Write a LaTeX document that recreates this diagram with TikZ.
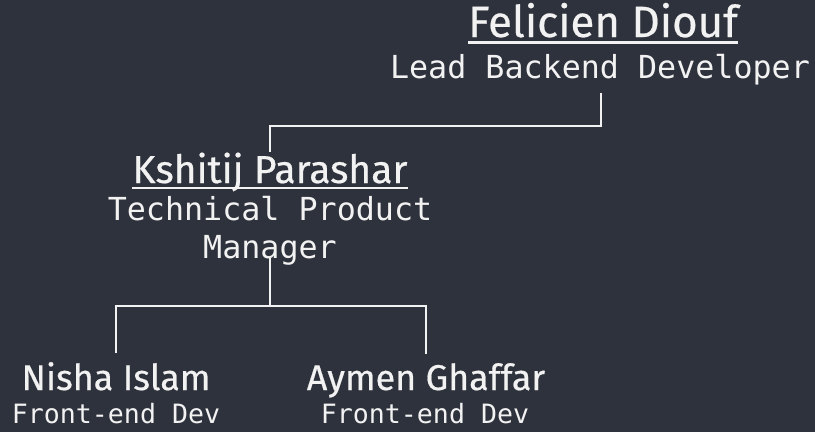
\documentclass[tikz,border=0pt]{standalone}
\usepackage{fontspec}
\setmainfont{Fira Sans}[FakeBold=0.5]
\newfontfamily\monof{DejaVu Sans Mono}
\usetikzlibrary{calc}
\definecolor{bg}{HTML}{2E323C}
\definecolor{fg}{HTML}{F2F2F2}
\tikzset{
  lvlA/.style={font=\fontsize{43.8}{44}\selectfont, text=fg, inner sep=0pt, anchor=base},
  lvlB/.style={font=\fontsize{39}{39}\selectfont, text=fg, inner sep=0pt, anchor=base},
  lvlC/.style={font=\fontsize{35.8}{36}\selectfont, text=fg, inner sep=0pt, anchor=base},
  roleA/.style={font=\monof\fontsize{31.7}{38}\selectfont, text=fg, inner sep=0pt, anchor=base, align=center},
  roleC/.style={font=\monof\fontsize{26.6}{32}\selectfont, text=fg, inner sep=0pt, anchor=base},
  link/.style={draw=fg, line width=2pt},
  uline/.style={draw=fg, line width=3pt}
}
\begin{document}
\begin{tikzpicture}[x=1pt,y=-1pt]
\path[fill=bg] (0,0) rectangle (815,432);
% level 1
\node[lvlA] (fel) at (603,37) {Felicien Diouf};
\node[roleA] (felR) at (600,78) {Lead Backend Developer};
\draw[uline] ($(fel.base west)+(0,5)$) -- ($(fel.base east)+(0,5)$);
% level 2
\node[lvlB] (ksh) at (270,183) {Kshitij Parashar};
\node[roleA] (kshR) at (270,258) {Technical Product\\Manager};
\draw[uline,line width=2.5pt] ($(ksh.base west)+(0,5)$) -- ($(ksh.base east)+(0,5)$);
% level 3
\node[lvlC] (nis) at (116,390) {Nisha Islam};
\node[roleC] (nisR) at (116,423) {Front-end Dev};
\node[lvlC] (aym) at (426,390) {Aymen Ghaffar};
\node[roleC] (aymR) at (425,423) {Front-end Dev};
% connectors
\coordinate (j1) at (601,93);
\draw[link] (j1) -- (601,126) -| (ksh.north);
\coordinate (j2) at (270,258);
\coordinate (hub) at (270,306);
\draw[link] (j2) -- (hub);
\draw[link] (hub) -| ($(nis.north)+(0,-9)$);
\draw[link] (hub) -| ($(aym.north)+(0,-9)$);
\end{tikzpicture}
\end{document}
